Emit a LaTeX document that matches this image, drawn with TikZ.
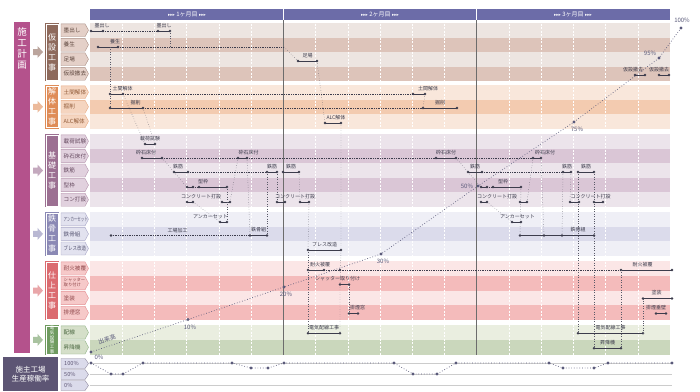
\documentclass[tikz,border=0pt]{standalone}
\usepackage{fontspec}
\setmainfont{Noto Sans CJK JP}
\newfontfamily\symfont{DejaVu Sans}
\usepackage{tikz}
\usetikzlibrary{calc,positioning}

\definecolor{plan}{HTML}{B4528C}
\definecolor{kasetsu}{HTML}{8E6A5C}
\definecolor{kasetsuA}{HTML}{EDE5E1}
\definecolor{kasetsuB}{HTML}{DDC4BA}
\definecolor{kaitai}{HTML}{DF8C58}
\definecolor{kaitaiA}{HTML}{F9E7DB}
\definecolor{kaitaiB}{HTML}{F3CBB0}
\definecolor{kiso}{HTML}{9C7092}
\definecolor{kisoA}{HTML}{ECE4EB}
\definecolor{kisoB}{HTML}{DAC6D6}
\definecolor{tekkotsu}{HTML}{8B89B5}
\definecolor{tekkotsuA}{HTML}{EFEFF6}
\definecolor{tekkotsuB}{HTML}{DBDBEB}
\definecolor{shiage}{HTML}{DB6B70}
\definecolor{shiageA}{HTML}{FBE6E6}
\definecolor{shiageB}{HTML}{F4BBBB}
\definecolor{denki}{HTML}{6F9B60}
\definecolor{denkiA}{HTML}{EAEEE0}
\definecolor{denkiB}{HTML}{CAD7BC}
\definecolor{head}{HTML}{6C6CA8}
\definecolor{owner}{HTML}{5D5574}
\definecolor{ink}{HTML}{3C3C4C}
\definecolor{curve}{HTML}{5A5A7A}

% one group of rows: id, top, row height, colour, band A, band B, labels
\newcommand{\workgroup}[7]{%
  \foreach \lab [count=\i from 0] in {#7}{
    \pgfmathsetmacro{\ta}{#2+\i*#3}
    \pgfmathsetmacro{\tb}{#2+(\i+1)*#3}
    \pgfmathsetmacro{\tm}{#2+(\i+0.5)*#3}
    \ifodd\i \def\bandc{#6}\else\def\bandc{#5}\fi
    \fill[\bandc] (90,\ta) rectangle (670,\tb);
    \filldraw[fill=#6!80!white, draw=#4!75!white, line width=0.4pt]
      (61,\ta+0.8) -- (85,\ta+0.8) -- (88.5,\tm) -- (85,\tb-0.8) -- (61,\tb-0.8) -- cycle;
    \node[rowlabel, text=#4!65!black] (#1-\i) at (63.5,\tm) {\lab};
  }
}
% group box with arrow: [style], id, top, bottom, centre, colour, text
\newcommand{\groupbox}[7][]{%
  \fill[#6] (45,#3) rectangle (59,#4);
  \draw[white, line width=0.4pt] (46,#3+1) rectangle (58,#4-1);
  \node[grouplabel,#1] (#2) at (52,#5) {#7};
  \fill[#6!60!white] (33,#5-3) -- (37.5,#5-3) -- (37.5,#5-6) -- (43,#5)
    -- (37.5,#5+6) -- (37.5,#5+3) -- (33,#5+3) -- cycle;
}
% task bar: [label shift], name, y, x1, x2, label
\newcommand{\gbar}[6][0]{%
  \coordinate (#2s) at (#4,#3);
  \coordinate (#2e) at (#5,#3);
  \draw[taskline] (#2s) -- (#2e);
  \fill[ink] (#2s) circle (1.4pt) (#2e) circle (1.4pt);
  \node[tasklabel] (#2l) at ($(#2s)!0.5!(#2e)+(#1,-5.5)$) {#6};
}
\newcommand{\gdot}[1]{\fill[ink] (#1) circle (1.4pt);}

\begin{document}
\begin{tikzpicture}[x=1pt,y=-1pt,
  tasklabel/.style={font=\fontsize{5}{5}\selectfont, text=ink, inner sep=0.3pt},
  taskline/.style={line width=0.9pt, ink},
  slack/.style={densely dotted, line width=0.75pt, ink},
  link/.style={dotted, line width=0.45pt, ink!85},
  rowlabel/.style={font=\fontsize{5.6}{6.2}\selectfont, anchor=west, inner sep=0pt},
  grouplabel/.style={font=\fontsize{8}{10}\selectfont, text=white, align=center, inner sep=0pt},
  pct/.style={font=\fontsize{6}{6}\selectfont, text=curve, inner sep=0.5pt},
  monthlabel/.style={font=\fontsize{6}{6}\selectfont, text=white, inner sep=0pt},
  ratebox/.style={fill=tekkotsuB, draw=owner!70, line width=0.4pt},
  ratelabel/.style={font=\fontsize{5.6}{6}\selectfont, text=owner, anchor=west, inner sep=0pt},
]
\useasboundingbox (0,0) rectangle (700,391);
\fill[white] (0,0) rectangle (700,391);

\workgroup{ks}{23}{14.5}{kasetsu}{kasetsuA}{kasetsuB}{墨出し,養生,足場,仮設撤去}
\workgroup{kt}{85}{14.5}{kaitai}{kaitaiA}{kaitaiB}{土間解体,掘削,ALC解体}
\workgroup{kb}{134}{14.6}{kiso}{kisoA}{kisoB}{載荷試験,砕石床付,鉄筋,型枠,コン打設}
\workgroup{tk}{212}{14.6}{tekkotsu}{tekkotsuA}{tekkotsuB}{{\scalebox{0.62}[1]{アンカーセット}},鉄骨組,{\scalebox{0.8}[1]{ブレス改造}}}
\workgroup{sa}{261}{14.8}{shiage}{shiageA}{shiageB}{耐火被覆,{\fontsize{4.3}{4.6}\selectfont\begin{tabular}{@{}l@{}}シャッター\\取り付け\end{tabular}},塗装,排煙窓}
\workgroup{dk}{325}{14.9}{denki}{denkiA}{denkiB}{配線,昇降機}

\fill[plan] (14,22) rectangle (30,353);
\node[font=\fontsize{9.5}{11}\selectfont, text=white, align=center, inner sep=0pt] (keikaku) at (22,48) {施\\工\\計\\画};

\groupbox{g1}{23}{81}{52}{kasetsu}{仮\\設\\工\\事}
\groupbox{g2}{85}{128.5}{106.75}{kaitai}{解\\体\\工\\事}
\groupbox{g3}{134}{207}{170.5}{kiso}{基\\礎\\工\\事}
\groupbox{g4}{212}{255.8}{233.9}{tekkotsu}{鉄\\骨\\工\\事}
\groupbox{g5}{261}{320.2}{290.6}{shiage}{仕\\上\\工\\事}
\groupbox[font=\fontsize{4.4}{4.65}\selectfont]{g6}{325}{354.8}{339.9}{denki}{電\\気\\設\\備\\工\\事}

\foreach \k in {1,...,17}{
  \draw[white, dash pattern=on 2pt off 1.5pt, line width=0.5pt]
    ({90+\k*32.22},20) -- ({90+\k*32.22},355);
}
\draw[gray!85!black, line width=0.7pt] (283.3,19) -- (283.3,355);
\draw[gray!85!black, line width=0.7pt] (476.7,19) -- (476.7,355);

\fill[head] (90,9) rectangle (670,19.5);
\draw[white, line width=0.6pt] (283.3,9) -- (283.3,19.5) (476.7,9) -- (476.7,19.5);
\node[monthlabel] (m1) at (187,14.3) {{\symfont\fontsize{4.5}{5}\selectfont ▸▸▸} 1ヶ月目 {\symfont\fontsize{4.5}{5}\selectfont ▸▸▸}};
\node[monthlabel] (m2) at (380,14.3) {{\symfont\fontsize{4.5}{5}\selectfont ▸▸▸} 2ヶ月目 {\symfont\fontsize{4.5}{5}\selectfont ▸▸▸}};
\node[monthlabel] (m3) at (573,14.3) {{\symfont\fontsize{4.5}{5}\selectfont ▸▸▸} 3ヶ月目 {\symfont\fontsize{4.5}{5}\selectfont ▸▸▸}};

% free ends of the links
\coordinate (j1) at (170,47);
\coordinate (j2) at (284,47);
\coordinate (j3) at (110,47);
\coordinate (koujous) at (111,235.5);
\coordinate (tk2a) at (544,235.5);
\coordinate (tk2b) at (562,235.5);
\coordinate (taikadot) at (340,270);
\coordinate (kw1a) at (193,187);
\coordinate (kw1b) at (199,187);
\coordinate (kw2a) at (487,187);
\coordinate (kw2b) at (493,187);

\gbar[5]{sumi1}{31}{91}{103}{墨出し}
\gbar{sumi2}{31}{158}{170}{墨出し}
\gbar[7]{yojo}{47}{98}{118}{養生}
\gbar{ashiba}{61}{298}{317}{足場}
\gbar[-7]{tekkyo1}{75}{635}{645}{仮設撤去}
\gbar[-5]{tekkyo2}{75}{659}{669}{仮設撤去}

\gbar[6]{doma1}{94}{110}{123}{土間解体}
\gbar[9]{doma2}{94}{413}{425}{土間解体}
\gbar[9]{kussaku1}{108}{110}{143}{掘削}
\gbar{kussaku2}{108}{423}{457}{掘削}
\gbar[3]{alc}{123}{325}{341}{ALC解体}

\gbar{saika}{144}{145}{155}{載荷試験}
\gbar[-6]{saiseki1}{158}{142}{162}{砕石床付}
\gbar[6]{saiseki2}{158}{238}{247}{砕石床付}
\gbar{saiseki3}{158}{436}{456}{砕石床付}
\gbar[8]{saiseki4}{158}{533}{541}{砕石床付}
\gbar[-3]{tekkin1}{172}{174}{188}{鉄筋}
\gbar{tekkin2}{172}{267}{277}{鉄筋}
\gbar{tekkin3}{172}{283}{299}{鉄筋}
\gbar{tekkin4}{172}{468}{482}{鉄筋}
\gbar{tekkin5}{172}{563}{571}{鉄筋}
\gbar{tekkin6}{172}{578}{594}{鉄筋}
\gbar{kata1a}{187}{187}{193}{}
\gbar[-10]{kata1b}{187}{199}{227}{型枠}
\gbar{kata2a}{187}{481}{487}{}
\gbar[-4]{kata2b}{187}{493}{521}{型枠}
\draw[slack] (kw1a) -- (kw1b);
\draw[slack] (kw2a) -- (kw2b);
\gbar[11]{kon1}{202}{187}{193}{コンクリート打設}
\gbar{kon2}{202}{222}{230}{}
\gbar[14]{kon3}{202}{277}{285}{コンクリート打設}
\gbar{kon4}{202}{300}{309}{}
\gbar[13]{kon5}{202}{481}{487}{コンクリート打設}
\gbar{kon6}{202}{520}{527}{}
\gbar[16]{kon7}{202}{570}{579}{コンクリート打設}
\gbar{kon8}{202}{594}{603}{}

\gbar[-13]{anchor1}{222}{220}{227}{アンカーセット}
\gbar[1]{anchor2}{222}{512}{521}{アンカーセット}
\gbar{tekkotsu1}{235.5}{250}{267}{鉄骨組}
\gbar[21]{tekkotsu2}{235.5}{520}{594}{鉄骨組}
\gbar{brace}{250}{308}{341}{ブレス改造}

\gbar[4]{taika1}{270}{308}{324}{耐火被覆}
\gbar[-4]{taika2}{270}{621}{672}{耐火被覆}
\gbar[-7]{shutter}{284.5}{340}{349}{シャッター取り付け}
\gbar[-1]{tosou}{298.5}{643}{672}{塗装}
\gbar[4]{haien1}{313.5}{349}{358}{排煙窓}
\gbar[-5]{haien2}{313.5}{656}{666}{排煙垂壁}

\gbar{denki1}{333.3}{308}{340}{電気配線工事}
\gbar{denki2}{333.3}{578}{643}{電気配線工事}
\gbar{shoukoki}{348.3}{594}{621}{昇降機}

\draw[slack] (sumi1e) -- (sumi2s);
\draw[slack] (yojoe) -- (j2);
\draw[slack] (doma1e) -- (doma2s);
\draw[slack] (kussaku1e) -- (kussaku2s);
\draw[slack] (saiseki1e) -- (saiseki2s) (saiseki2e) -- (saiseki3s) (saiseki3e) -- (saiseki4s);
\draw[slack] (tekkin1e) -- (tekkin2s) (tekkin4e) -- (tekkin5s);
\draw[slack] (koujous) -- node[tasklabel, above=1.5pt, pos=0.48] (koujoul) {工場加工} (tekkotsu1s);
\draw[slack] (taika1e) -- (taika2s);
\gdot{koujous}
\gdot{tk2a}
\gdot{tk2b}
\gdot{taikadot}

\draw[link] (sumi2e) -- (j1);
\draw[link] (j2) -- (ashibas);
\draw[link] (j3) -- (kussaku1s);
\draw[link] (doma2e) -- (kussaku2s);
\draw[link] (ashibae) -- (alcs);
\draw[link] (doma1e) -- (saikas);
\draw[link] (kussaku1e) -- (saikae);
\draw[link] (saiseki1e) -- (tekkin1s);
\draw[link] (tekkin1s) -- (kata1as);
\draw[link] (kon1e) -- (anchor1s);
\draw[link] (kata1be) -- (anchor1e);
\draw[link] (saiseki2s) -- (kon2e);
\draw[link] (saiseki2e) -- (tekkotsu1s);
\draw[link] (tekkin2s) -- (tekkotsu1e);
\draw[link] (tekkin2e) -- (kon3s);
\draw[link] (tekkin3e) -- (kon4s);
\draw[link] (kon4e) -- (braces);
\draw[link] (alce) -- (bracee) -- (shutters) -- (denki1e);
\draw[link] (braces) -- (taika1s) -- (denki1s);
\draw[link] (shuttere) -- (haien1s);
\draw[link] (saiseki3e) -- (tekkin4s);
\draw[link] (tekkin4s) -- (kata2as);
\draw[link] (kon5e) -- (anchor2s);
\draw[link] (kata2be) -- (tekkotsu2s);
\draw[link] (kon6e) -- (saiseki4s);
\draw[link] (saiseki4e) -- (tk2a);
\draw[link] (tekkin5s) -- (tk2b);
\draw[link] (tekkin5e) -- (kon7s);
\draw[link] (tekkin6s) -- (denki2s);
\draw[link] (tekkin6e) -- (shoukokis);
\draw[link] (tosous) -- (denki2e);
\draw[link] (taika2s) -- (shoukokie);

% 出来高
\coordinate (p0) at (91,352);
\coordinate (p10) at (188,319.5);
\coordinate (p20) at (284,287);
\coordinate (p30) at (381,254);
\coordinate (p50) at (478,186);
\coordinate (p75) at (574,122);
\coordinate (p95) at (659,58);
\coordinate (p100) at (681,28);
\draw[curve, dotted, line width=0.7pt] (p0) -- (p10) -- (p20) -- (p30) -- (p50) -- (p75) -- (p95) -- (p100);
\foreach \p in {p0,p10,p20,p30,p50,p75,p95,p100}{\fill[curve] (\p) circle (1.7pt);}
\node[pct] (l0) at (99,357) {0\%};
\node[pct] (l10) at (190,327) {10\%};
\node[pct] (l20) at (286,294.5) {20\%};
\node[pct] (l30) at (383,261.5) {30\%};
\node[pct] (l50) at (467,186) {50\%};
\node[pct] (l75) at (577,129.5) {75\%};
\node[pct] (l95) at (650,53) {95\%};
\node[pct] (l100) at (682,20) {100\%};
\node[pct, rotate=19, inner sep=0pt, font=\fontsize{6}{6}\selectfont] (dekidaka) at (107,339) {出来高};

% 生産稼働率
\fill[owner] (3,357) rectangle (58,391);
\node[font=\fontsize{7.5}{9.5}\selectfont, text=white, align=center, inner sep=0pt] (owner) at (30.5,374) {施主工場\\生産稼働率};
\foreach \t/\lab/\n in {358/100\%/r100, 369/50\%/r50, 380/0\%/r0}{
  \filldraw[ratebox] (61,\t+0.5) -- (85,\t+0.5) -- (88.5,\t+5.5) -- (85,\t+10.5) -- (61,\t+10.5) -- cycle;
  \node[ratelabel] (\n) at (64,\t+5.5) {\lab};
}
\foreach \y in {363.5,374.5,385.5}{\draw[gray!40, line width=0.5pt] (90,\y) -- (672,\y);}
\draw[curve, dotted, line width=0.7pt] (91,363) -- (111,374) -- (123,374) -- (143,363) -- (232,363)
  -- (251,368) -- (268,368) -- (284,363) -- (394,363) -- (413,374) -- (437,374) -- (456,363)
  -- (549,363) -- (563,368) -- (594,368) -- (608,363) -- (672,363);
\foreach \x/\y in {91/363,111/374,123/374,143/363,232/363,251/368,268/368,284/363,394/363,413/374,437/374,456/363,549/363,563/368,594/368,608/363,672/363}{
  \fill[curve] (\x,\y) circle (1.6pt);
}
\end{tikzpicture}
\end{document}
